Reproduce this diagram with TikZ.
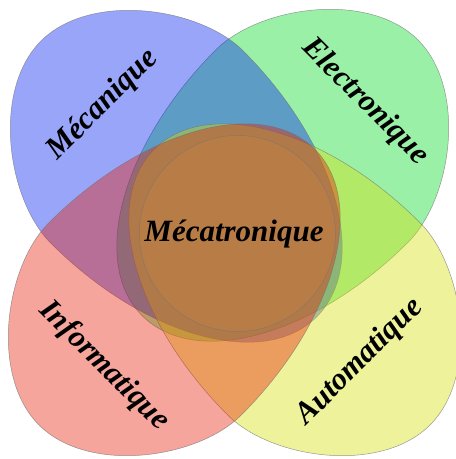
\documentclass[tikz,border=0pt]{standalone}
\usepackage{fontspec}
\setmainfont{Liberation Serif}
\definecolor{mecablue}{RGB}{0,30,238}
\definecolor{elecgreen}{RGB}{5,218,37}
\definecolor{autoyellow}{RGB}{212,222,5}
\definecolor{infored}{RGB}{230,30,5}
\definecolor{mecabrown}{RGB}{192,128,70}
\tikzset{
  domain/.style={fill=#1, fill opacity=0.4, draw=black!55, draw opacity=0.7, line width=0.5pt},
  core/.style={fill=mecabrown, fill opacity=0.55, draw=black!55, draw opacity=0.6, line width=0.5pt},
  label/.style={font=\fontsize{31}{31}\selectfont\bfseries\itshape, text=black, inner sep=0pt}
}
% an egg-shaped field: rounded tip at the local origin, widest at x=150,
% narrowing towards the inner end at x=390
\newcommand{\eggfield}[4]{%
  \begin{scope}[shift={(#1,#2)}, rotate=#3]
    \path[domain=#4] (0,0)
      .. controls (0,70) and (88,136) .. (150,136)
      .. controls (283,136) and (390,75) .. (390,0)
      .. controls (390,-75) and (283,-136) .. (150,-136)
      .. controls (88,-136) and (0,-70) .. (0,0) -- cycle;
  \end{scope}}
\begin{document}
\begin{tikzpicture}[x=1pt, y=1pt]
  \useasboundingbox (0,0) rectangle (456,459);
  % the four disciplines
  \eggfield{418}{419}{-135}{elecgreen}
  \eggfield{41}{418}{-45}{mecablue}
  \eggfield{430}{34}{135}{autoyellow}
  \eggfield{39}{34}{45}{infored}
  % the common core
  \path[core] (237.5,225.5) circle[radius=98];
  % labels
  \node[label, rotate=45]  (meca) at (103,354) {Mécanique};
  \node[label, rotate=-45] (elec) at (365,357) {Electronique};
  \node[label, rotate=-45] (info) at (104,93)  {Informatique};
  \node[label, rotate=45]  (auto) at (360,97)  {Automatique};
  \node[label]             (core) at (234,225) {Mécatronique};
\end{tikzpicture}
\end{document}
